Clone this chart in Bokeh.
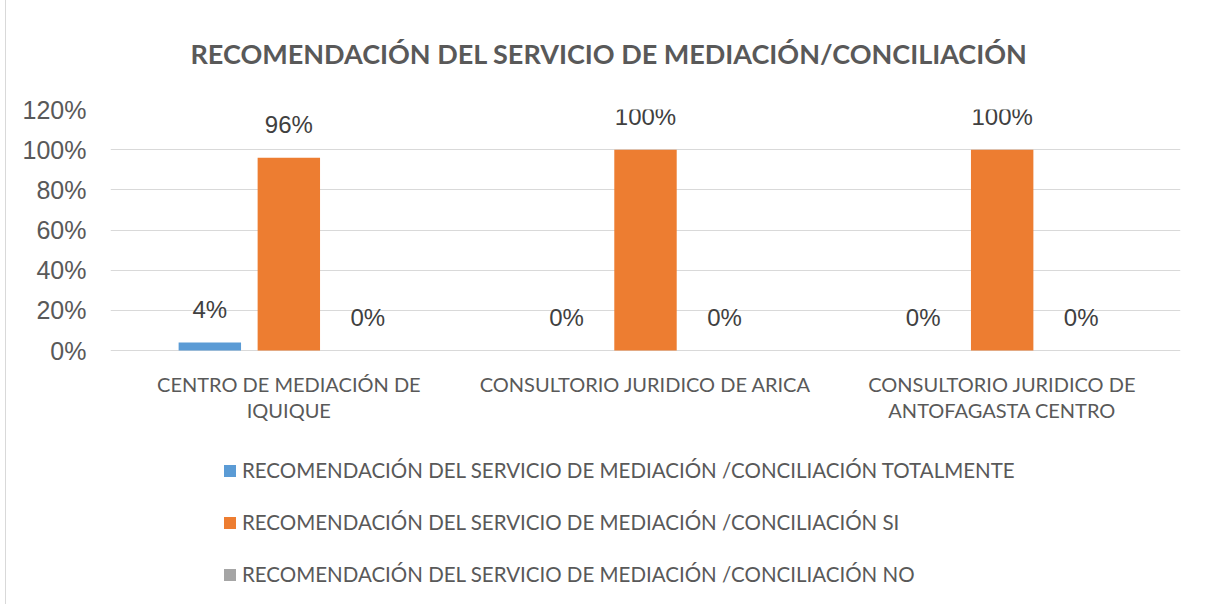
from bokeh.plotting import figure
from bokeh.models import (FactorRange, Range1d, FixedTicker, NumeralTickFormatter,
                          ColumnDataSource, Legend, LegendItem)
from bokeh.transform import dodge
from bokeh.core.properties import value
from bokeh.embed import file_html
from bokeh.resources import INLINE

title = "RECOMENDACIÓN DEL SERVICIO DE MEDIACIÓN/CONCILIACIÓN"
categories = ["CENTRO DE MEDIACIÓN DE IQUIQUE",
              "CONSULTORIO JURIDICO DE ARICA",
              "CONSULTORIO JURIDICO DE ANTOFAGASTA CENTRO"]
category_labels = ["CENTRO DE MEDIACIÓN DE\nIQUIQUE",
                   "CONSULTORIO JURIDICO DE ARICA",
                   "CONSULTORIO JURIDICO DE\nANTOFAGASTA CENTRO"]
series_names = ["RECOMENDACIÓN DEL SERVICIO DE MEDIACIÓN /CONCILIACIÓN TOTALMENTE",
                "RECOMENDACIÓN DEL SERVICIO DE MEDIACIÓN /CONCILIACIÓN SI",
                "RECOMENDACIÓN DEL SERVICIO DE MEDIACIÓN /CONCILIACIÓN NO"]
totalmente = [0.04, 0.0, 0.0]
si = [0.96, 1.00, 1.00]
no = [0.0, 0.0, 0.0]
y_ticks = [0, 0.2, 0.4, 0.6, 0.8, 1.0, 1.2]

colors = ["#5B9BD5", "#ED7D31", "#A5A5A5"]
offsets = [-0.2215, 0.0, 0.2215]

# layout geometry (pixels)
FRAME_W = 1070
VALUE_H = 241        # pixels from 0% to 120%
BELOW_H = 254        # pixels of space below 0% inside the frame (category labels, legend)
FRAME_H = VALUE_H + BELOW_H
y_top = y_ticks[-1]
y_bottom = -y_top * BELOW_H / VALUE_H

src = ColumnDataSource(dict(
    cat=categories, catlab=category_labels, zero=[0] * len(categories),
    s0=totalmente, s1=si, s2=no,
    l0=[f"{round(v*100)}%" for v in totalmente],
    l1=[f"{round(v*100)}%" for v in si],
    l2=[f"{round(v*100)}%" for v in no],
))

p = figure(frame_width=FRAME_W, frame_height=FRAME_H, x_range=FactorRange(*categories),
           y_range=Range1d(y_bottom, y_top), output_backend="svg", toolbar_location=None,
           min_border_left=104, min_border_right=25, min_border_top=115,
           min_border_bottom=0)
p.width = None
p.height = None
p.styles = {"margin-left": "5px", "margin-top": "-7px",
            "border-left": "1px solid #d9d9d9", "border-top": "1px solid #d9d9d9"}
p.outline_line_color = None
p.background_fill_color = "white"

p.title.text = title
p.title.align = "left"
p.title.text_font = "Lato"
p.title.text_font_style = "bold"
p.title.text_font_size = "27px"
p.title.text_color = "#595959"
p.title.standoff = 79
p.title.offset = 80

renderers = []
for i in range(3):
    r = p.vbar(x=dodge("cat", offsets[i], range=p.x_range), top=f"s{i}", width=0.175,
               source=src, color=colors[i], line_color=None)
    renderers.append(r)
    p.text(x=dodge("cat", offsets[i], range=p.x_range), y=f"s{i}", text=f"l{i}",
           source=src, text_align="center", text_baseline="middle", y_offset=-33,
           text_font=value("Liberation Sans"), text_font_size="24px", text_color="#404040")

# category labels below the 0% line
p.text(x="cat", y="zero", text="catlab", source=src, text_align="center",
       text_baseline="top", y_offset=21, text_line_height=1.12,
       text_font=value("Lato"), text_font_size="20px", text_color="#595959")

p.yaxis.ticker = FixedTicker(ticks=y_ticks)
p.yaxis.formatter = NumeralTickFormatter(format="0%")
p.yaxis.axis_line_color = None
p.yaxis.major_tick_line_color = None
p.yaxis.minor_tick_line_color = None
p.yaxis.major_label_text_font = "Liberation Sans"
p.yaxis.major_label_text_font_size = "25px"
p.yaxis.major_label_text_color = "#595959"
p.yaxis.major_label_standoff = 18

p.xaxis.visible = False
p.xgrid.grid_line_color = None
p.ygrid.grid_line_color = "#D9D9D9"
p.ygrid.grid_line_width = 1

legend = Legend(items=[LegendItem(label=series_names[i], renderers=[renderers[i]]) for i in range(3)],
                orientation="vertical", location=(112, 18))
legend.glyph_width = 15
legend.glyph_height = 15
legend.label_height = 20
legend.spacing = 28
legend.padding = 0
legend.margin = 0
legend.border_line_color = None
legend.background_fill_alpha = 0
legend.label_text_font = "Lato"
legend.label_text_font_size = "20.5px"
legend.label_text_color = "#595959"
legend.label_standoff = 5
p.add_layout(legend, "center")

open("out.html", "w").write(file_html(p, INLINE))
